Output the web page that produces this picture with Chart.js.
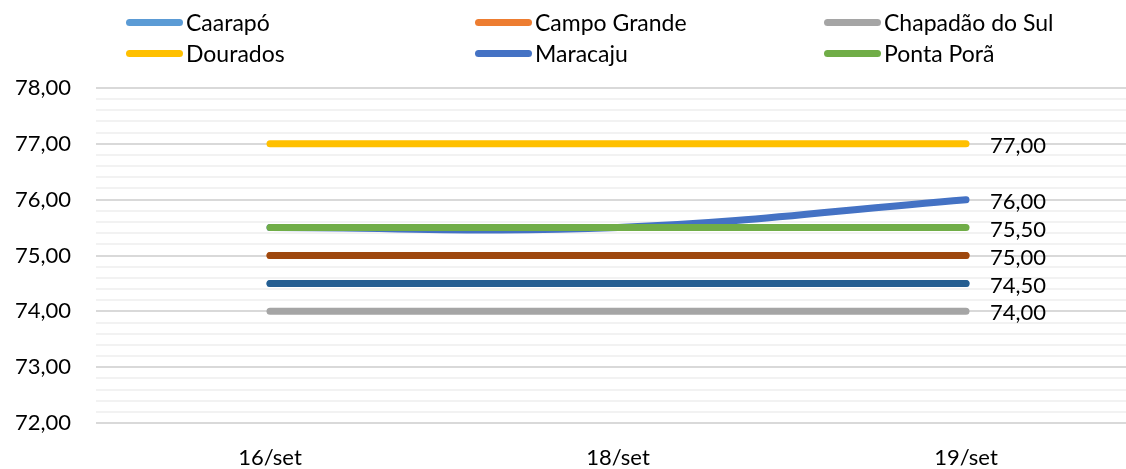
<!DOCTYPE html>
<html>
<head>
<meta charset="utf-8">
<script src="https://cdn.jsdelivr.net/npm/chart.js@4.4.1/dist/chart.umd.min.js"></script>
<style>
  html, body { margin: 0; padding: 0; background: #fff; overflow: hidden; width: 1126px; height: 469px; }
  #wrap { position: relative; width: 1170px; height: 469px; }
  #legend { position: absolute; left: 0; top: 0; width: 1126px; height: 70px; font-family: Lato, "Liberation Sans", sans-serif; font-size: 23px; color: #000; }
  .item { position: absolute; display: flex; align-items: center; height: 26px; white-space: nowrap; }
  .sym { width: 57px; height: 7px; border-radius: 4px; margin-right: 3px; }
</style>
</head>
<body>
<div id="wrap">
  <canvas id="c" width="1170" height="469"></canvas>
  <div id="legend"></div>
</div>
<script>
const categories = ["16/set", "18/set", "19/set"];
const seriesNames = ["Caarapó", "Campo Grande", "Chapadão do Sul", "Dourados", "Maracaju", "Ponta Porã", "Série 7", "Série 8"];
const caarapo = [74.5, 74.5, 74.5];
const campoGrande = [75.0, 75.0, 75.0];
const chapadaoDoSul = [74.0, 74.0, 74.0];
const dourados = [77.0, 77.0, 77.0];
const maracaju = [75.5, 75.5, 76.0];
const pontaPora = [75.5, 75.5, 75.5];
const serie7 = [75.0, 75.0, 75.0];
const serie8 = [74.5, 74.5, 74.5];
const legendCount = 6;
const yMin = 72, yMax = 78, yMinorStep = 0.2;

const seriesValues = [caarapo, campoGrande, chapadaoDoSul, dourados, maracaju, pontaPora, serie7, serie8];
const colors = ["#5B9BD5", "#ED7D31", "#A5A5A5", "#FFC000", "#4472C4", "#70AD47", "#9E480E", "#255E91"];
const FONT = "Lato, 'Liberation Sans', sans-serif";

function fmt(v) { return v.toFixed(2).replace('.', ','); }
function isMajor(v) { return Math.abs(v - Math.round(v)) < 1e-6; }

// legend (HTML)
const legendEl = document.getElementById('legend');
const colX = [126, 475, 824];
const rowY = [9, 40];
for (let i = 0; i < legendCount; i++) {
  const d = document.createElement('div');
  d.className = 'item';
  d.style.left = colX[i % 3] + 'px';
  d.style.top = rowY[Math.floor(i / 3)] + 'px';
  const s = document.createElement('span');
  s.className = 'sym';
  s.style.background = colors[i];
  const t = document.createElement('span');
  t.textContent = seriesNames[i];
  d.appendChild(s); d.appendChild(t);
  legendEl.appendChild(d);
}

const labelPlugin = {
  id: 'endLabels',
  afterDatasetsDraw(chart) {
    const ctx = chart.ctx;
    ctx.save();
    ctx.font = "22px " + FONT;
    ctx.fillStyle = '#000';
    ctx.textAlign = 'left';
    ctx.textBaseline = 'middle';
    const done = new Set();
    chart.data.datasets.forEach((ds, i) => {
      const meta = chart.getDatasetMeta(i);
      const last = meta.data[meta.data.length - 1];
      const v = ds.data[ds.data.length - 1];
      const key = fmt(v);
      if (done.has(key)) return;
      done.add(key);
      ctx.fillText(key, last.x + 24, last.y + 2);
    });
    ctx.restore();
  }
};

const datasets = seriesValues.map((vals, i) => ({
  label: seriesNames[i],
  data: vals,
  borderColor: colors[i],
  backgroundColor: colors[i],
  borderWidth: 7,
  borderCapStyle: 'round',
  borderJoinStyle: 'round',
  pointRadius: 0,
  pointHoverRadius: 0,
  tension: seriesNames[i] === "Maracaju" ? 0.4 : 0,
  fill: false,
  order: seriesValues.length - i
}));

new Chart(document.getElementById('c'), {
  type: 'line',
  data: { labels: categories, datasets },
  options: {
    responsive: false,
    animation: false,
    events: [],
    layout: { padding: { top: 88, right: 30, bottom: 0, left: 0 } },
    plugins: { legend: { display: false }, tooltip: { enabled: false } },
    scales: {
      x: {
        offset: true,
        afterFit(scale) { scale.height = 46; },
        grid: { display: false, drawTicks: false },
        border: { display: false },
        ticks: { color: '#000', font: { family: FONT, size: 22 }, padding: 22, maxRotation: 0 }
      },
      y: {
        min: yMin, max: yMax,
        afterFit(scale) { scale.width = 96; },
        grid: {
          drawTicks: false,
          lineWidth: 2,
          color: (c) => isMajor(c.tick.value) ? '#d9d9d9' : '#f2f2f2'
        },
        border: { display: false },
        ticks: {
          stepSize: yMinorStep,
          maxTicksLimit: 100,
          autoSkip: false,
          padding: 25,
          color: '#000',
          font: { family: FONT, size: 22 },
          callback: (v) => isMajor(v) ? fmt(v) : ''
        }
      }
    }
  },
  plugins: [labelPlugin]
});
</script>
</body>
</html>
